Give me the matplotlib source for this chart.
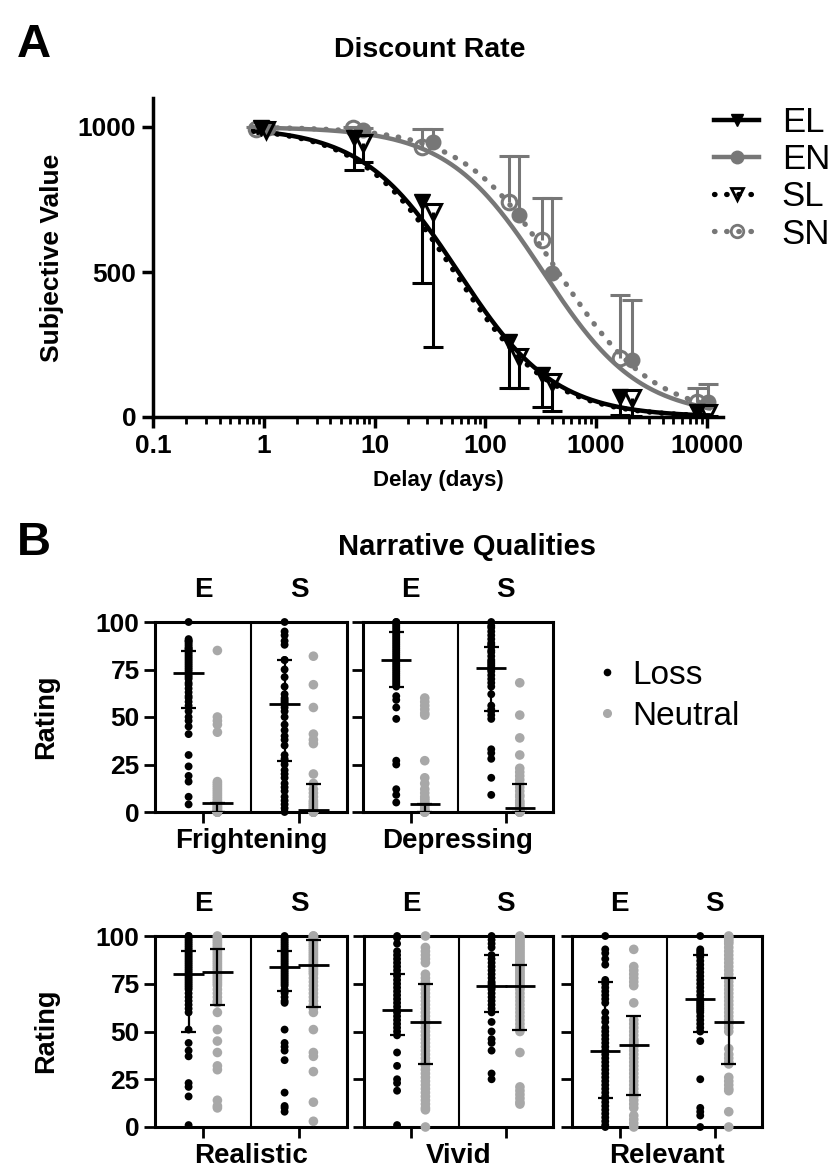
import numpy as np
import matplotlib.pyplot as plt
from matplotlib.lines import Line2D

plt.rcParams['font.family'] = ['Liberation Sans', 'DejaVu Sans']

# ---------- panel A data ----------
delay_EL = [0.95, 6.5, 27, 165, 325, 1650, 8100]
delay_SL = [1.05, 7.9, 34, 200, 400, 2100, 10200]
delay_EN = [1.1, 7.8, 34, 200, 400, 2100, 10200]
delay_SN = [0.85, 6.4, 27, 165, 325, 1650, 8100]

val_EL = [995, 962, 741, 259, 145, 69, 17]
val_SL = [990, 945, 707, 207, 121, 65, 14]
val_EN = [995, 990, 948, 697, 496, 197, 52]
val_SN = [993, 996, 931, 741, 610, 203, 52]

# error bar ends (loss: lower side, neutral: upper side)
low_EL = [985, 852, 462, 100, 34, 7, 4]
low_SL = [980, 880, 241, 100, 21, 5, 3]
high_EN = [1000, 998, 993, 900, 755, 403, 114]
high_SN = [1000, 1000, 993, 900, 755, 420, 100]

# fitted hyperbolic discount rates k (V = 1000 / (1 + k D))
k_EL, k_SL, k_EN, k_SN = 0.0175, 0.019, 0.003, 0.0022
x_ticks = [0.1, 1, 10, 100, 1000, 10000]
x_labels = ['0.1', '1', '10', '100', '1000', '10000']

# ---------- panel B data ----------
categories = ['Frightening', 'Depressing', 'Realistic', 'Vivid', 'Relevant']

fright_E_loss = [100, 91, 90, 90, 89, 88, 87, 86, 86, 85, 84, 83, 82, 81, 80, 79, 78, 77, 76, 75, 74,
                 72, 71, 70, 68, 67, 65, 63, 61, 60, 58, 56, 53, 50, 48, 45, 41, 30, 24, 19, 16, 8, 4]
fright_E_neut = [85, 50, 48, 46, 42, 16, 15, 14, 13, 12, 11, 10, 9, 8, 7, 6, 5, 5, 4, 3, 3, 2, 2, 1, 1,
                 0, 0, 0, 0, 0, 0, 0]
fright_S_loss = [100, 95, 93, 90, 88, 80, 80, 75, 71, 66, 62, 60, 59, 58, 57, 55, 53, 50, 46, 43, 40,
                 38, 35, 30, 28, 27, 25, 22, 20, 18, 15, 13, 11, 8, 6, 4, 2, 0]
fright_S_neut = [82, 67, 55, 41, 38, 36, 20, 15, 12, 10, 8, 6, 5, 4, 3, 2, 1, 1, 0, 0, 0, 0, 0, 0, 0, 0]

depr_E_loss = [100, 100, 99, 98, 97, 96, 95, 94, 93, 92, 91, 90, 89, 88, 87, 86, 85, 84, 83, 82, 81, 80,
               79, 78, 77, 76, 75, 74, 73, 72, 71, 70, 69, 68, 67, 66, 61, 59, 55, 49, 27, 25, 12, 9, 5]
depr_E_neut = [60, 58, 56, 54, 52, 51, 27, 18, 15, 12, 10, 8, 7, 6, 5, 4, 4, 3, 2, 1, 1, 0, 0, 0]
depr_S_loss = [100, 98, 97, 95, 93, 91, 89, 88, 87, 85, 84, 82, 80, 79, 78, 77, 76, 75, 74, 72, 70, 68,
               66, 62, 56, 54, 53, 51, 49, 33, 31, 28, 18, 9]
depr_S_neut = [68, 51, 39, 30, 23, 21, 19, 17, 15, 13, 11, 9, 8, 6, 5, 4, 3, 2, 2, 1, 1, 0, 0, 0, 0, 0]

real_E_loss = [100, 100, 99, 98, 97, 96, 95, 94, 93, 92, 91, 90, 89, 88, 87, 86, 85, 84, 83, 82, 81, 80,
               79, 78, 77, 76, 75, 74, 73, 72, 70, 68, 66, 64, 62, 60, 51, 44, 40, 37, 23, 21, 16, 1]
real_E_neut = [100, 99, 98, 97, 96, 95, 94, 93, 92, 91, 90, 89, 88, 87, 86, 85, 84, 83, 82, 81, 80, 79,
               78, 77, 76, 75, 74, 72, 70, 68, 66, 65, 60, 51, 45, 39, 32, 30, 14, 11, 10]
real_S_loss = [100, 99, 98, 97, 96, 95, 94, 93, 92, 91, 90, 89, 88, 87, 86, 85, 84, 83, 82, 81, 80, 79,
               78, 77, 76, 75, 74, 72, 71, 70, 68, 66, 65, 51, 44, 42, 40, 35, 18, 11, 10, 8]
real_S_neut = [100, 100, 99, 99, 98, 98, 97, 96, 95, 94, 93, 92, 91, 90, 89, 88, 87, 86, 85, 84, 83, 82,
               81, 80, 78, 76, 74, 72, 70, 68, 66, 64, 63, 62, 60, 51, 39, 37, 29, 13, 3]

vivid_E_loss = [100, 99, 96, 92, 90, 88, 86, 84, 82, 80, 79, 77, 75, 73, 71, 69, 67, 65, 63, 61, 60, 58,
                56, 54, 52, 50, 48, 39, 32, 25, 23, 19, 1]
vivid_E_neut = [100, 94, 92, 90, 88, 86, 80, 78, 76, 74, 72, 70, 68, 66, 64, 62, 60, 58, 56, 55, 54, 52,
                50, 48, 46, 44, 42, 40, 38, 36, 34, 32, 30, 28, 26, 24, 22, 20, 18, 16, 14, 12, 10, 9, 0]
vivid_S_loss = [100, 98, 96, 94, 90, 88, 86, 84, 82, 80, 78, 76, 75, 74, 73, 72, 70, 68, 66, 64, 62, 60,
                55, 50, 46, 44, 40, 28, 25]
vivid_S_neut = [100, 99, 98, 97, 96, 95, 94, 93, 92, 91, 90, 89, 88, 87, 86, 85, 84, 83, 82, 81, 80, 79,
                78, 77, 76, 75, 74, 73, 72, 70, 68, 66, 64, 62, 60, 58, 56, 54, 52, 50, 39, 21, 19, 17,
                15, 13, 12]

relev_E_loss = [100, 93, 91, 88, 85, 77, 75, 73, 71, 69, 67, 65, 60, 57, 55, 52, 50, 48, 46, 44, 42, 40,
                38, 36, 34, 32, 30, 28, 26, 24, 22, 20, 18, 16, 15, 13, 11, 9, 7, 5, 3, 1, 0]
relev_E_neut = [93, 84, 82, 80, 78, 76, 74, 65, 56, 54, 52, 50, 48, 46, 45, 44, 43, 42, 40, 38, 36, 34,
                32, 30, 28, 26, 24, 22, 20, 18, 16, 14, 12, 10, 6, 4, 2, 0]
relev_S_loss = [100, 93, 92, 91, 90, 89, 87, 85, 83, 81, 79, 77, 75, 73, 71, 69, 67, 66, 65, 64, 63, 62,
                61, 60, 58, 56, 54, 52, 50, 45, 25, 10, 8, 6, 0]
relev_S_neut = [100, 99, 98, 97, 96, 94, 92, 90, 88, 86, 84, 82, 80, 78, 76, 74, 72, 70, 68, 66, 64, 62,
                60, 58, 56, 55, 54, 52, 50, 41, 38, 36, 34, 33, 26, 24, 22, 20, 19, 8, 0]

# median, lower quartile, upper quartile for E-loss, E-neutral, S-loss, S-neutral
fright_stats = [(73, 55, 85), (5, 0, 5), (57, 27, 80), (1, 0, 15)]
depr_stats = [(80, 66, 95), (4, 0, 4), (76, 53, 87), (2, 0, 15)]
real_stats = [(80, 50, 92), (81, 64, 93), (84, 71, 92), (85, 63, 98)]
vivid_stats = [(61, 48, 80), (55, 33, 75), (74, 60, 90), (74, 51, 85)]
relev_stats = [(40, 15, 76), (43, 17, 58), (67, 50, 90), (55, 33, 78)]

panel_points = [
    [fright_E_loss, fright_E_neut, fright_S_loss, fright_S_neut],
    [depr_E_loss, depr_E_neut, depr_S_loss, depr_S_neut],
    [real_E_loss, real_E_neut, real_S_loss, real_S_neut],
    [vivid_E_loss, vivid_E_neut, vivid_S_loss, vivid_S_neut],
    [relev_E_loss, relev_E_neut, relev_S_loss, relev_S_neut],
]
panel_stats = [fright_stats, depr_stats, real_stats, vivid_stats, relev_stats]

W, H = 838, 1169
fig = plt.figure(figsize=(W / 100, H / 100), dpi=100)


def box(l, t, r, b):
    return [l / W, 1 - b / H, (r - l) / W, (b - t) / H]


dark = '#777777'
light = '#a8a8a8'
dotted = (0, (0.1, 2.2))

# ---------- panel A ----------
ax = fig.add_axes(box(153, 98, 723, 417))
xs = np.logspace(np.log10(0.8), np.log10(10500), 300)
ax.plot(xs, 1000 / (1 + k_EN * xs), color=dark, lw=3.2, zorder=2)
ax.plot(xs, 1000 / (1 + k_SN * xs), color=dark, lw=3.8, ls=dotted,
        dash_capstyle='round', zorder=2)
ax.plot(xs, 1000 / (1 + k_EL * xs), color='black', lw=3.2, zorder=3)
ax.plot(xs, 1000 / (1 + k_SL * xs), color='black', lw=3.8, ls=dotted,
        dash_capstyle='round', zorder=3)

for d, v, e, c in [(delay_EL, val_EL, low_EL, 'black'), (delay_SL, val_SL, low_SL, 'black'),
                   (delay_EN, val_EN, high_EN, dark), (delay_SN, val_SN, high_SN, dark)]:
    ax.vlines(d, v, e, color=c, lw=2.2, zorder=4)
    ax.plot(d, e, ls='none', marker='_', ms=15, mew=2.2, color=c, zorder=4)

ax.plot(delay_EN, val_EN, ls='none', marker='o', ms=10.5, color=dark, zorder=5)
ax.plot(delay_SN, val_SN, ls='none', marker='o', ms=10.5, mfc='none', mec=dark, mew=2.2, zorder=5)
ax.plot(delay_EL, val_EL, ls='none', marker='v', ms=11, color='black', zorder=6)
ax.plot(delay_SL, val_SL, ls='none', marker='v', ms=11, mfc='none', mec='black', mew=2.2, zorder=6)

ax.set_xscale('log')
ax.set_xlim(0.1, 14000)
ax.set_ylim(0, 1100)
ax.set_xticks(x_ticks)
ax.set_xticklabels(x_labels)
ax.set_yticks([0, 500, 1000])
for s in ['top', 'right']:
    ax.spines[s].set_visible(False)
for s in ['left', 'bottom']:
    ax.spines[s].set_linewidth(2.5)
ax.tick_params(which='major', length=8, width=2.5, labelsize=19, pad=4)
ax.tick_params(which='minor', length=5, width=2)
for lab in ax.get_xticklabels() + ax.get_yticklabels():
    lab.set_fontweight('bold')
ax.set_xlabel('Delay (days)', fontsize=16, fontweight='bold', labelpad=9)
ax.set_ylabel('Subjective Value', fontsize=19, fontweight='bold', labelpad=10)

handles = [
    Line2D([], [], color='black', lw=3.2, marker='v', ms=9),
    Line2D([], [], color=dark, lw=3.2, marker='o', ms=9),
    Line2D([], [], color='black', lw=3.8, ls=dotted, dash_capstyle='round',
           marker='v', ms=9, mfc='none', mew=2),
    Line2D([], [], color=dark, lw=3.8, ls=dotted, dash_capstyle='round',
           marker='o', ms=9, mfc='none', mew=2),
]
fig.legend(handles, ['EL', 'EN', 'SL', 'SN'], loc='upper left',
           bbox_to_anchor=(714 / W, 1 - 106 / H), frameon=False, fontsize=25,
           handlelength=1.3, handletextpad=0.65, labelspacing=0.12, borderpad=0,
           borderaxespad=0)

fig.text(34 / W, 1 - 45 / H, 'A', fontsize=34, fontweight='bold', ha='center', va='center')
fig.text(430 / W, 1 - 50 / H, 'Discount Rate', fontsize=20.5, fontweight='bold',
         ha='center', va='center')

# ---------- panel B ----------
fig.text(34 / W, 1 - 543 / H, 'B', fontsize=34, fontweight='bold', ha='center', va='center')
fig.text(467 / W, 1 - 547 / H, 'Narrative Qualities', fontsize=21, fontweight='bold',
         ha='center', va='center')

rects = [(155, 622, 347, 812), (363, 622, 553, 812),
         (155, 936, 347, 1127), (364, 936, 553, 1127), (572, 936, 762, 1127)]
offsets = [-0.15, 0.15, -0.15, 0.15]
centers = [1, 1, 2, 2]
colors = ['black', light, 'black', light]
sizes = [32, 48, 32, 48]

for i, cat in enumerate(categories):
    bx = fig.add_axes(box(*rects[i]))
    for j in range(4):
        x = centers[j] + offsets[j]
        vals = panel_points[i][j]
        bx.scatter(np.full(len(vals), x), vals, s=sizes[j], color=colors[j],
                   edgecolors='none', clip_on=False, zorder=3)
        med, q1, q3 = panel_stats[i][j]
        bx.vlines(x, q1, q3, color='black', lw=1.6, zorder=4)
        bx.hlines(med, x - 0.16, x + 0.16, color='black', lw=2, zorder=4)
        bx.hlines([q1, q3], x - 0.08, x + 0.08, color='black', lw=1.6, zorder=4)
    bx.axvline(1.5, color='black', lw=1.5)
    bx.set_xlim(0.5, 2.5)
    bx.set_ylim(0, 100)
    bx.set_xticks([1, 2])
    bx.set_xticklabels([])
    bx.set_yticks([0, 25, 50, 75, 100])
    for s in bx.spines.values():
        s.set_linewidth(2.2)
    bx.tick_params(length=8, width=2, labelsize=19, pad=3)
    if i in (0, 2):
        for lab in bx.get_yticklabels():
            lab.set_fontweight('bold')
    else:
        bx.set_yticklabels([])
    bx.text(1, 117, 'E', fontsize=20, fontweight='bold', ha='center', va='center')
    bx.text(2, 117, 'S', fontsize=20, fontweight='bold', ha='center', va='center')
    bx.text(1.5, -19, cat, fontsize=20, fontweight='bold', ha='center', va='baseline')

fig.text(46 / W, 1 - 717 / H, 'Rating', fontsize=19.5, fontweight='bold', rotation=90,
         ha='center', va='center')
fig.text(46 / W, 1 - 1031 / H, 'Rating', fontsize=19.5, fontweight='bold', rotation=90,
         ha='center', va='center')

leg_handles = [
    Line2D([], [], ls='none', marker='o', ms=4.5, color='black'),
    Line2D([], [], ls='none', marker='o', ms=5.5, color=light),
]
fig.legend(leg_handles, ['Loss', 'Neutral'], loc='upper left',
           bbox_to_anchor=(597 / W, 1 - 660 / H), frameon=False, fontsize=24,
           handlelength=0.6, handletextpad=0.45, labelspacing=0.3, borderpad=0,
           borderaxespad=0)

fig.savefig('out.png', dpi=100)
